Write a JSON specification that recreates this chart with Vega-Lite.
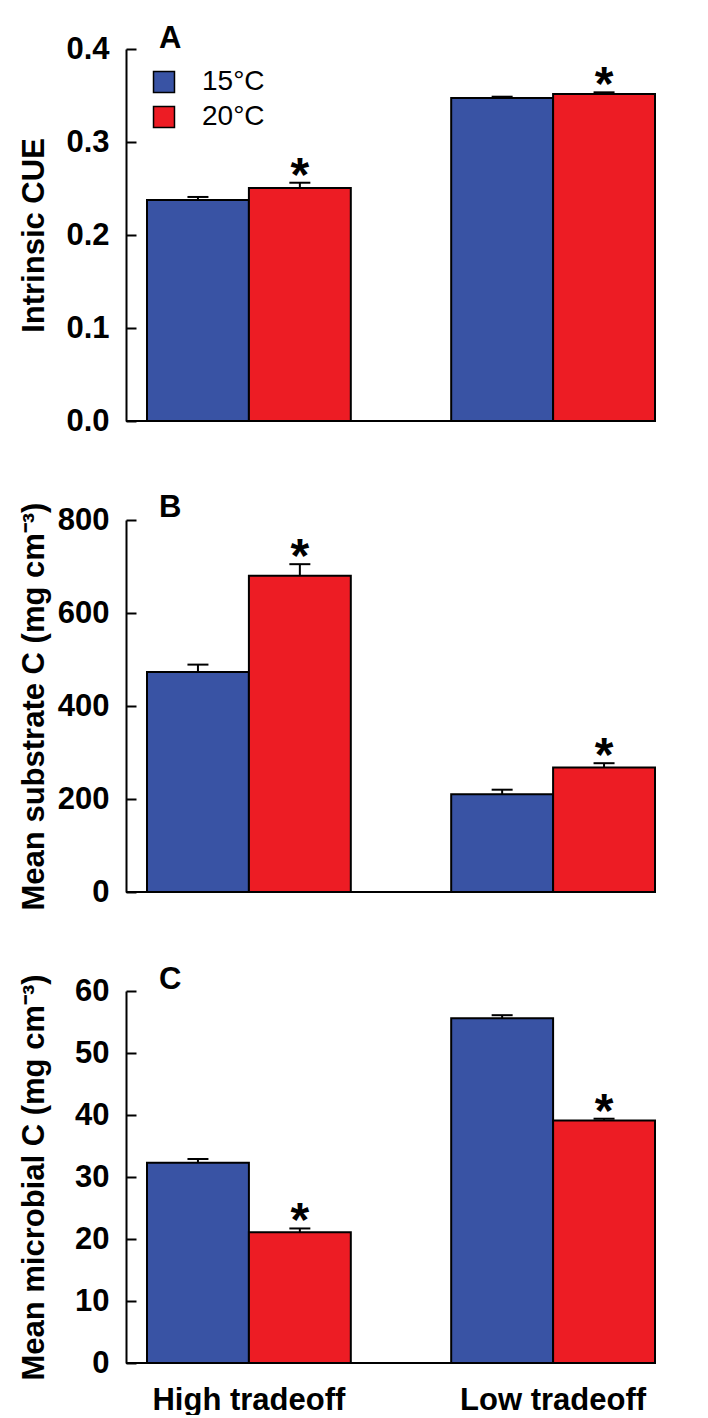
{
  "$schema": "https://vega.github.io/schema/vega-lite/v6.json",
  "padding": {"left": 17, "top": 23, "right": 5, "bottom": 0},
  "bounds": "flush",
  "spacing": 99,
  "config": {
    "view": {"stroke": null},
    "axis": {"labelFont": "Liberation Sans", "labelFontSize": 31, "labelFontWeight": "bold", "labelColor": "black", "labelLimit": 0, "titleFont": "Liberation Sans", "titleFontSize": 31, "titleFontWeight": "bold", "titleColor": "black", "titleLimit": 0, "domainColor": "black", "domainWidth": 2, "tickColor": "black", "tickWidth": 2, "grid": false},
    "title": {"font": "Liberation Sans", "fontSize": 31, "fontWeight": "bold", "color": "black", "anchor": "start", "frame": "group", "dx": 33, "dy": 26, "offset": 0, "baseline": "alphabetic"}
  },
  "datasets": {
    "A": [
      {"group": "High tradeoff", "temp": "15°C", "value": 0.2376, "upper": 0.2409, "sig": ""},
      {"group": "High tradeoff", "temp": "20°C", "value": 0.2505, "upper": 0.2562, "sig": "*"},
      {"group": "Low tradeoff", "temp": "15°C", "value": 0.3473, "upper": 0.3487, "sig": ""},
      {"group": "Low tradeoff", "temp": "20°C", "value": 0.3516, "upper": 0.3534, "sig": "*"}
    ],
    "B": [
      {"group": "High tradeoff", "temp": "15°C", "value": 473, "upper": 489, "sig": ""},
      {"group": "High tradeoff", "temp": "20°C", "value": 680, "upper": 705, "sig": "*"},
      {"group": "Low tradeoff", "temp": "15°C", "value": 210, "upper": 220, "sig": ""},
      {"group": "Low tradeoff", "temp": "20°C", "value": 268, "upper": 277, "sig": "*"}
    ],
    "C": [
      {"group": "High tradeoff", "temp": "15°C", "value": 32.3, "upper": 32.9, "sig": ""},
      {"group": "High tradeoff", "temp": "20°C", "value": 21.1, "upper": 21.7, "sig": "*"},
      {"group": "Low tradeoff", "temp": "15°C", "value": 55.6, "upper": 56.1, "sig": ""},
      {"group": "Low tradeoff", "temp": "20°C", "value": 39.1, "upper": 39.4, "sig": "*"}
    ]
  },
  "resolve": {"scale": {"color": "independent", "y": "independent", "x": "independent"}, "legend": {"color": "independent"}},
  "vconcat": [
    {
      "width": 529, "height": 372,
      "title": {"text": "A"},
      "data": {"name": "A"},
      "layer": [
        {"mark": {"type": "bar", "stroke": "black", "strokeWidth": 2},
         "encoding": {
           "x": {"field": "group", "type": "nominal", "sort": ["High tradeoff", "Low tradeoff"], "scale": {"range": [21, 529], "paddingInner": 0.33, "paddingOuter": 0}, "axis": null},
           "xOffset": {"field": "temp", "type": "nominal", "sort": ["15°C", "20°C"], "scale": {"paddingInner": 0, "paddingOuter": 0}},
           "y": {"field": "value", "type": "quantitative", "scale": {"domain": [0, 0.4], "nice": false}, "axis": {"title": "Intrinsic CUE", "values": [0, 0.1, 0.2, 0.3, 0.4], "format": ".1f", "tickSize": -10, "labelPadding": 27, "titleX": -83, "titleBaseline": "alphabetic"}},
           "color": {"field": "temp", "type": "nominal", "scale": {"domain": ["15°C", "20°C"], "range": ["#3953A4", "#ED1C24"]},
             "legend": {"title": null, "orient": "none", "legendX": 24, "legendY": 19, "symbolType": "square", "symbolSize": 440, "symbolStrokeColor": "black", "symbolStrokeWidth": 1.5, "symbolOpacity": 1, "labelFont": "Liberation Sans", "labelFontSize": 28, "labelColor": "black", "labelOffset": 24, "rowPadding": 7, "padding": 0}}
         }},
        {"mark": {"type": "rule", "strokeWidth": 2, "color": "black"},
         "encoding": {
           "x": {"field": "group", "type": "nominal", "sort": ["High tradeoff", "Low tradeoff"]},
           "xOffset": {"field": "temp", "type": "nominal", "sort": ["15°C", "20°C"]},
           "y": {"field": "value", "type": "quantitative"},
           "y2": {"field": "upper"}
         }},
        {"mark": {"type": "tick", "thickness": 2, "size": 21, "color": "black", "opacity": 1},
         "encoding": {
           "x": {"field": "group", "type": "nominal", "sort": ["High tradeoff", "Low tradeoff"]},
           "xOffset": {"field": "temp", "type": "nominal", "sort": ["15°C", "20°C"]},
           "y": {"field": "upper", "type": "quantitative"}
         }},
        {"mark": {"type": "text", "font": "Liberation Sans", "fontSize": 48, "fontWeight": "bold", "color": "black", "align": "center", "baseline": "alphabetic", "dy": 8},
         "encoding": {
           "x": {"field": "group", "type": "nominal", "sort": ["High tradeoff", "Low tradeoff"]},
           "xOffset": {"field": "temp", "type": "nominal", "sort": ["15°C", "20°C"]},
           "y": {"field": "upper", "type": "quantitative"},
           "text": {"field": "sig"}
         }},
        {"data": {"values": [{}]}, "mark": {"type": "rule", "strokeWidth": 2, "color": "black"},
         "encoding": {"y": {"datum": 0}}}
      ]
    },
    {
      "width": 529, "height": 372,
      "title": {"text": "B"},
      "data": {"name": "B"},
      "layer": [
        {"mark": {"type": "bar", "stroke": "black", "strokeWidth": 2},
         "encoding": {
           "x": {"field": "group", "type": "nominal", "sort": ["High tradeoff", "Low tradeoff"], "scale": {"range": [21, 529], "paddingInner": 0.33, "paddingOuter": 0}, "axis": null},
           "xOffset": {"field": "temp", "type": "nominal", "sort": ["15°C", "20°C"], "scale": {"paddingInner": 0, "paddingOuter": 0}},
           "y": {"field": "value", "type": "quantitative", "scale": {"domain": [0, 800], "nice": false}, "axis": {"title": "Mean substrate C (mg cm⁻³)", "values": [0, 200, 400, 600, 800], "tickSize": -10, "labelPadding": 27, "titleX": -83, "titleBaseline": "alphabetic"}},
           "color": {"field": "temp", "type": "nominal", "scale": {"domain": ["15°C", "20°C"], "range": ["#3953A4", "#ED1C24"]}, "legend": null}
         }},
        {"mark": {"type": "rule", "strokeWidth": 2, "color": "black"},
         "encoding": {
           "x": {"field": "group", "type": "nominal", "sort": ["High tradeoff", "Low tradeoff"]},
           "xOffset": {"field": "temp", "type": "nominal", "sort": ["15°C", "20°C"]},
           "y": {"field": "value", "type": "quantitative"},
           "y2": {"field": "upper"}
         }},
        {"mark": {"type": "tick", "thickness": 2, "size": 21, "color": "black", "opacity": 1},
         "encoding": {
           "x": {"field": "group", "type": "nominal", "sort": ["High tradeoff", "Low tradeoff"]},
           "xOffset": {"field": "temp", "type": "nominal", "sort": ["15°C", "20°C"]},
           "y": {"field": "upper", "type": "quantitative"}
         }},
        {"mark": {"type": "text", "font": "Liberation Sans", "fontSize": 48, "fontWeight": "bold", "color": "black", "align": "center", "baseline": "alphabetic", "dy": 8},
         "encoding": {
           "x": {"field": "group", "type": "nominal", "sort": ["High tradeoff", "Low tradeoff"]},
           "xOffset": {"field": "temp", "type": "nominal", "sort": ["15°C", "20°C"]},
           "y": {"field": "upper", "type": "quantitative"},
           "text": {"field": "sig"}
         }},
        {"data": {"values": [{}]}, "mark": {"type": "rule", "strokeWidth": 2, "color": "black"},
         "encoding": {"y": {"datum": 0}}}
      ]
    },
    {
      "width": 529, "height": 372,
      "title": {"text": "C"},
      "data": {"name": "C"},
      "layer": [
        {"mark": {"type": "bar", "stroke": "black", "strokeWidth": 2},
         "encoding": {
           "x": {"field": "group", "type": "nominal", "sort": ["High tradeoff", "Low tradeoff"], "scale": {"range": [21, 529], "paddingInner": 0.33, "paddingOuter": 0}, "axis": {"title": null, "ticks": false, "domain": false, "labelAngle": 0, "labelPadding": 22}},
           "xOffset": {"field": "temp", "type": "nominal", "sort": ["15°C", "20°C"], "scale": {"paddingInner": 0, "paddingOuter": 0}},
           "y": {"field": "value", "type": "quantitative", "scale": {"domain": [0, 60], "nice": false}, "axis": {"title": "Mean microbial C (mg cm⁻³)", "values": [0, 10, 20, 30, 40, 50, 60], "tickSize": -10, "labelPadding": 27, "titleX": -83, "titleBaseline": "alphabetic"}},
           "color": {"field": "temp", "type": "nominal", "scale": {"domain": ["15°C", "20°C"], "range": ["#3953A4", "#ED1C24"]}, "legend": null}
         }},
        {"mark": {"type": "rule", "strokeWidth": 2, "color": "black"},
         "encoding": {
           "x": {"field": "group", "type": "nominal", "sort": ["High tradeoff", "Low tradeoff"]},
           "xOffset": {"field": "temp", "type": "nominal", "sort": ["15°C", "20°C"]},
           "y": {"field": "value", "type": "quantitative"},
           "y2": {"field": "upper"}
         }},
        {"mark": {"type": "tick", "thickness": 2, "size": 21, "color": "black", "opacity": 1},
         "encoding": {
           "x": {"field": "group", "type": "nominal", "sort": ["High tradeoff", "Low tradeoff"]},
           "xOffset": {"field": "temp", "type": "nominal", "sort": ["15°C", "20°C"]},
           "y": {"field": "upper", "type": "quantitative"}
         }},
        {"mark": {"type": "text", "font": "Liberation Sans", "fontSize": 48, "fontWeight": "bold", "color": "black", "align": "center", "baseline": "alphabetic", "dy": 8},
         "encoding": {
           "x": {"field": "group", "type": "nominal", "sort": ["High tradeoff", "Low tradeoff"]},
           "xOffset": {"field": "temp", "type": "nominal", "sort": ["15°C", "20°C"]},
           "y": {"field": "upper", "type": "quantitative"},
           "text": {"field": "sig"}
         }},
        {"data": {"values": [{}]}, "mark": {"type": "rule", "strokeWidth": 2, "color": "black"},
         "encoding": {"y": {"datum": 0}}}
      ]
    }
  ]
}
